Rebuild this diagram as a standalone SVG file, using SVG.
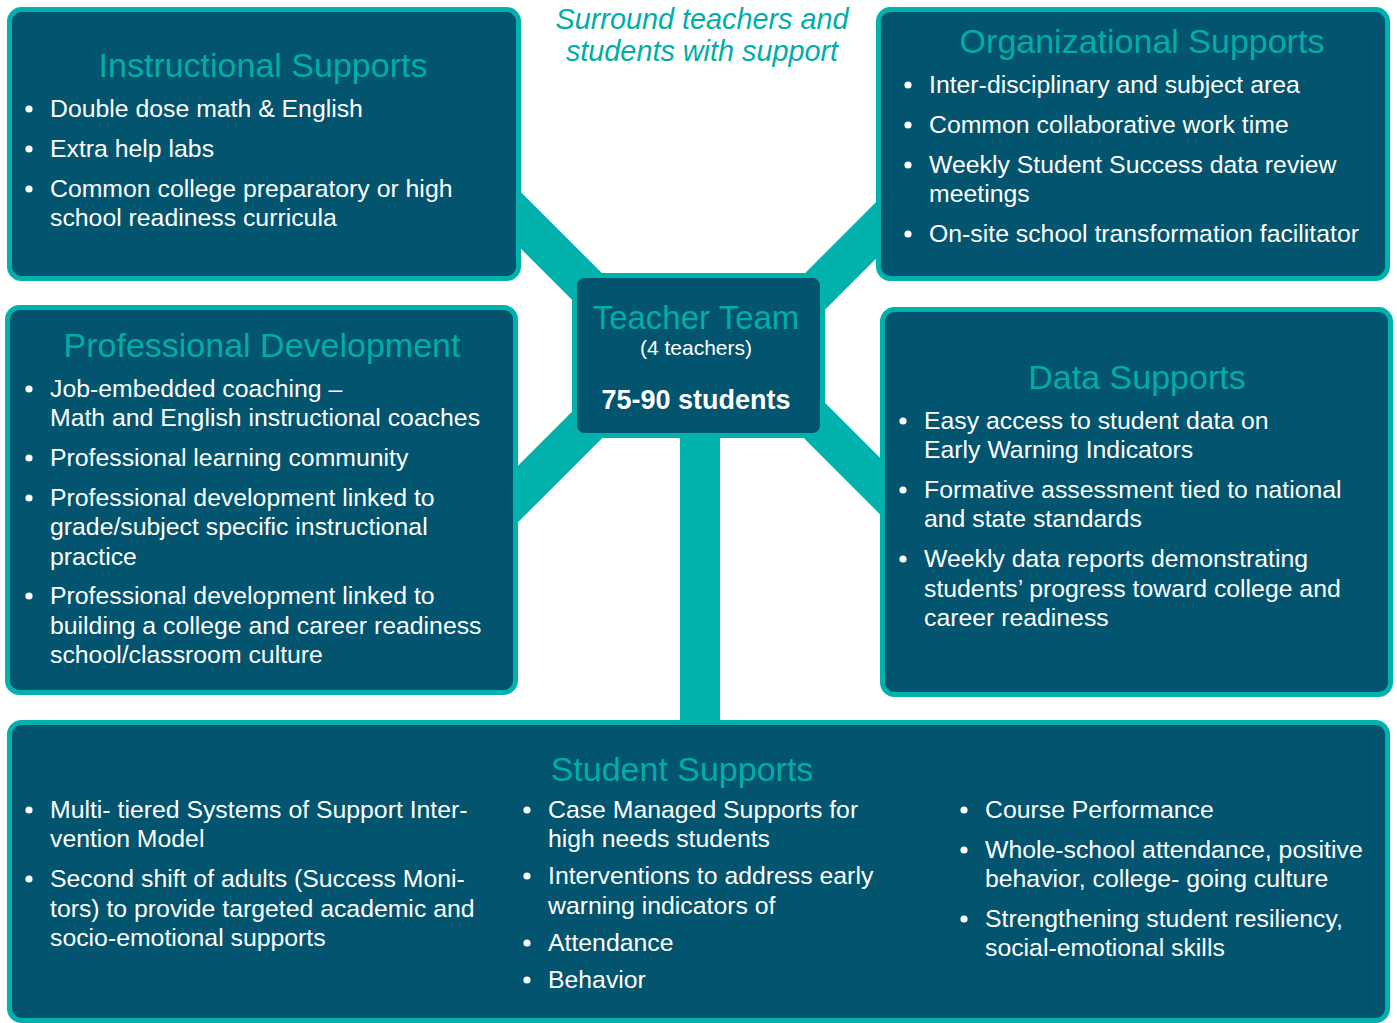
<svg xmlns="http://www.w3.org/2000/svg" width="1397" height="1023" viewBox="0 0 1397 1023">
<style>
.box{fill:#02546F;stroke:#00B1AC;stroke-width:5}
.bar{stroke:#00B1AC;stroke-width:40;fill:none}
.title{font-family:"Liberation Sans",Arial,sans-serif;font-size:34px;fill:#00ADA8;text-anchor:middle}
.t{font-family:"Liberation Sans",Arial,sans-serif;font-size:24.8px;fill:#FFFFFF}
.b{fill:#FFFFFF}
.sub{font-family:"Liberation Sans",Arial,sans-serif;font-size:28.8px;font-style:italic;fill:#00ADA8;text-anchor:middle}
</style>
<rect width="1397" height="1023" fill="#FFFFFF"/>
<g id="connectors">
<line class="bar" x1="480" y1="179.5" x2="690" y2="389.5"/>
<line class="bar" x1="700" y1="406.5" x2="920" y2="186.5"/>
<line class="bar" x1="480" y1="532" x2="690" y2="322"/>
<line class="bar" x1="700" y1="306" x2="920" y2="526"/>
<rect x="680" y="400" width="40" height="340" fill="#00B1AC"/>
</g>
<g id="subtitle">
<text class="sub" x="702" y="29">Surround teachers and</text>
<text class="sub" x="702" y="61">students with support</text>
</g>
<g id="instructional">
<rect class="box" x="9.5" y="9.5" width="509" height="269" rx="12"/>
<text class="title" x="263" y="77">Instructional Supports</text>
<circle class="b" cx="29" cy="109" r="3.6"/>
<circle class="b" cx="29" cy="149" r="3.6"/>
<circle class="b" cx="29" cy="189" r="3.6"/>
<text class="t" x="50" y="117">Double dose math &amp; English</text>
<text class="t" x="50" y="157">Extra help labs</text>
<text class="t" x="50" y="197">Common college preparatory or high</text>
<text class="t" x="50" y="226">school readiness curricula</text>
</g>
<g id="organizational">
<rect class="box" x="878.5" y="9.5" width="509" height="269" rx="12"/>
<text class="title" x="1142" y="53">Organizational Supports</text>
<circle class="b" cx="908" cy="85" r="3.6"/>
<circle class="b" cx="908" cy="125" r="3.6"/>
<circle class="b" cx="908" cy="165" r="3.6"/>
<circle class="b" cx="908" cy="234" r="3.6"/>
<text class="t" x="929" y="93">Inter-disciplinary and subject area</text>
<text class="t" x="929" y="133">Common collaborative work time</text>
<text class="t" x="929" y="173">Weekly Student Success data review</text>
<text class="t" x="929" y="202">meetings</text>
<text class="t" x="929" y="242">On-site school transformation facilitator</text>
</g>
<g id="teacher-team">
<rect class="box" x="574.5" y="275.5" width="248" height="160" rx="10"/>
<text class="title" x="696" y="329" style="font-size:33px">Teacher Team</text>
<text x="696" y="355" style="font-family:'Liberation Sans',Arial,sans-serif;font-size:21px;fill:#FFFFFF;text-anchor:middle">(4 teachers)</text>
<text x="696" y="409" style="font-family:'Liberation Sans',Arial,sans-serif;font-size:27px;font-weight:bold;fill:#FFFFFF;text-anchor:middle">75-90 students</text>
</g>
<g id="professional-development">
<rect class="box" x="7.5" y="307.5" width="508" height="385" rx="12"/>
<text class="title" x="262" y="357">Professional Development</text>
<circle class="b" cx="29" cy="389" r="3.6"/>
<circle class="b" cx="29" cy="458" r="3.6"/>
<circle class="b" cx="29" cy="498" r="3.6"/>
<circle class="b" cx="29" cy="596" r="3.6"/>
<text class="t" x="50" y="397">Job-embedded coaching –</text>
<text class="t" x="50" y="426">Math and English instructional coaches</text>
<text class="t" x="50" y="466">Professional learning community</text>
<text class="t" x="50" y="506">Professional development linked to</text>
<text class="t" x="50" y="535">grade/subject specific instructional</text>
<text class="t" x="50" y="565">practice</text>
<text class="t" x="50" y="604">Professional development linked to</text>
<text class="t" x="50" y="634">building a college and career readiness</text>
<text class="t" x="50" y="663">school/classroom culture</text>
</g>
<g id="data-supports">
<rect class="box" x="882.5" y="309.5" width="508" height="385" rx="12"/>
<text class="title" x="1137" y="389">Data Supports</text>
<circle class="b" cx="903" cy="421" r="3.6"/>
<circle class="b" cx="903" cy="490" r="3.6"/>
<circle class="b" cx="903" cy="559" r="3.6"/>
<text class="t" x="924" y="429">Easy access to student data on</text>
<text class="t" x="924" y="458">Early Warning Indicators</text>
<text class="t" x="924" y="498">Formative assessment tied to national</text>
<text class="t" x="924" y="527">and state standards</text>
<text class="t" x="924" y="567">Weekly data reports demonstrating</text>
<text class="t" x="924" y="597">students’ progress toward college and</text>
<text class="t" x="924" y="626">career readiness</text>
</g>
<g id="student-supports">
<rect class="box" x="9.5" y="722.5" width="1378" height="298" rx="12"/>
<text class="title" x="682" y="781">Student Supports</text>
<circle class="b" cx="29" cy="810" r="3.6"/>
<circle class="b" cx="29" cy="879" r="3.6"/>
<text class="t" x="50" y="818">Multi- tiered Systems of Support Inter-</text>
<text class="t" x="50" y="847">vention Model</text>
<text class="t" x="50" y="887">Second shift of adults (Success Moni-</text>
<text class="t" x="50" y="917">tors) to provide targeted academic and</text>
<text class="t" x="50" y="946">socio-emotional supports</text>
<circle class="b" cx="527" cy="810" r="3.6"/>
<circle class="b" cx="527" cy="876" r="3.6"/>
<circle class="b" cx="527" cy="943" r="3.6"/>
<circle class="b" cx="527" cy="980" r="3.6"/>
<text class="t" x="548" y="818">Case Managed Supports for</text>
<text class="t" x="548" y="847">high needs students</text>
<text class="t" x="548" y="884">Interventions to address early</text>
<text class="t" x="548" y="914">warning indicators of</text>
<text class="t" x="548" y="951">Attendance</text>
<text class="t" x="548" y="988">Behavior</text>
<circle class="b" cx="964" cy="810" r="3.6"/>
<circle class="b" cx="964" cy="850" r="3.6"/>
<circle class="b" cx="964" cy="919" r="3.6"/>
<text class="t" x="985" y="818">Course Performance</text>
<text class="t" x="985" y="858">Whole-school attendance, positive</text>
<text class="t" x="985" y="887">behavior, college- going culture</text>
<text class="t" x="985" y="927">Strengthening student resiliency,</text>
<text class="t" x="985" y="956">social-emotional skills</text>
</g>
</svg>
